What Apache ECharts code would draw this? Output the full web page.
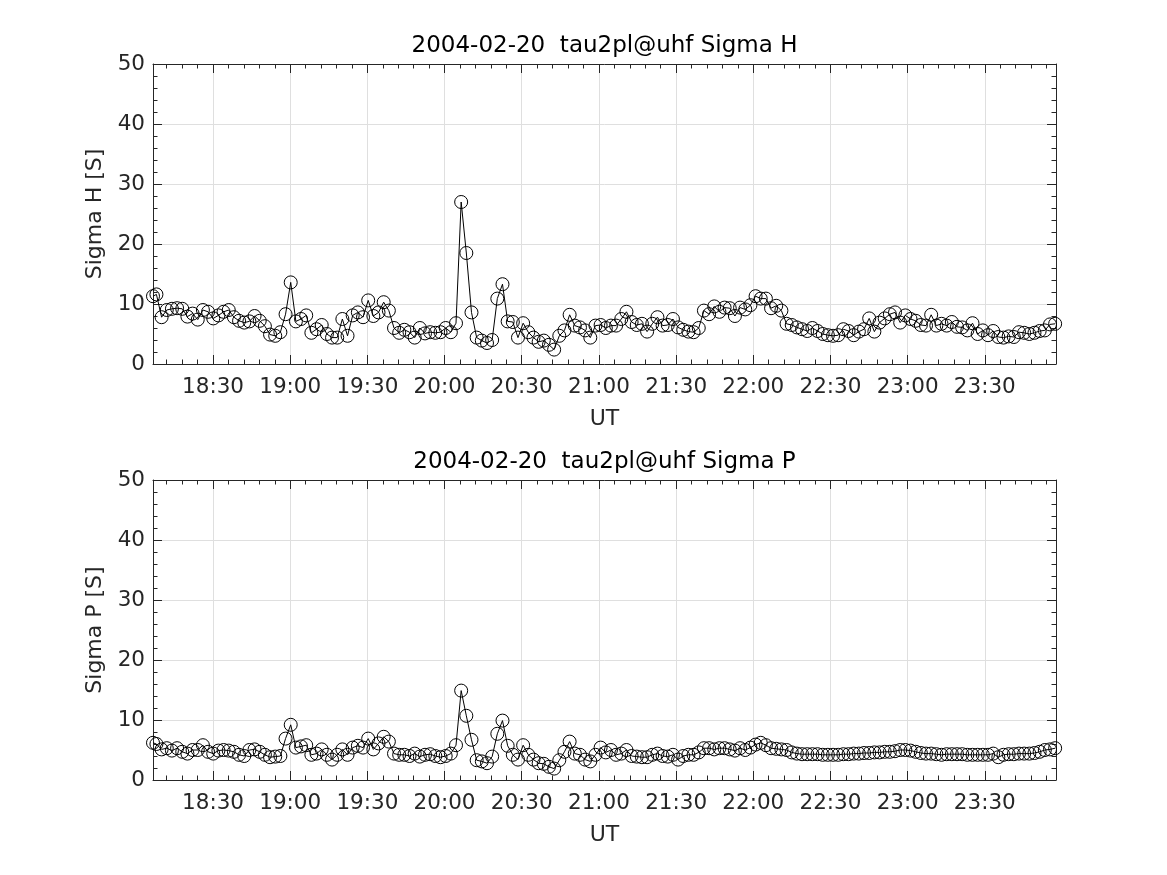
<!DOCTYPE html>
<html>
<head>
<meta charset="utf-8">
<script src="https://cdn.jsdelivr.net/npm/echarts@6/dist/echarts.min.js"></script>
<style>
html,body{margin:0;padding:0;background:#ffffff;}
#chart{width:1167px;height:875px;}
</style>
</head>
<body>
<div id="chart"></div>
<script>
// ---------------- data ----------------
const titleTop = '2004-02-20  tau2pl@uhf Sigma H';
const titleBottom = '2004-02-20  tau2pl@uhf Sigma P';
const yNameTop = 'Sigma H [S]';
const yNameBottom = 'Sigma P [S]';
const xName = 'UT';

const majorTickLabels = ['18:30','19:00','19:30','20:00','20:30','21:00','21:30','22:00','22:30','23:00','23:30'];
const yTickValues = [0, 10, 20, 30, 40, 50];

// sampling times (UT)
const firstSampleTime = '18:06:40';
const regularStartTime = '18:08:00';
const lastSampleTime = '23:57:20';
const axisStartTime = '18:06:40';
const axisEndTime = '23:57:40';

const sigmaH = [
 11.3, 11.6, 7.8, 9.0, 9.2, 9.3, 9.2, 7.9, 8.4, 7.4,
 9.0, 8.7, 7.6, 8.1, 8.7, 9.0, 7.8, 7.2, 6.9, 7.1,
 8.0, 7.2, 6.3, 4.9, 4.7, 5.3, 8.3, 13.6, 7.1, 7.5,
 8.1, 5.2, 5.8, 6.5, 5.0, 4.4, 4.4, 7.5, 4.7, 8.1,
 8.6, 7.8, 10.6, 8.0, 8.6, 10.3, 8.9, 6.0, 5.2, 5.7,
 5.3, 4.4, 6.0, 5.1, 5.3, 5.2, 5.3, 6.0, 5.3, 6.8,
 27.0, 18.5, 8.6, 4.4, 3.9, 3.5, 4.0, 10.9, 13.3, 7.1,
 7.0, 4.4, 6.8, 5.3, 4.4, 3.7, 3.9, 3.2, 2.4, 4.7,
 5.6, 8.2, 6.4, 6.1, 5.6, 4.4, 6.4, 6.5, 6.0, 6.4,
 6.4, 7.5, 8.7, 7.0, 6.5, 6.7, 5.4, 6.7, 7.8, 6.4,
 6.5, 7.5, 6.1, 5.7, 5.4, 5.3, 6.0, 8.9, 8.3, 9.6,
 8.7, 9.4, 9.3, 8.0, 9.4, 9.1, 9.8, 11.3, 10.9, 10.9,
 9.3, 9.7, 8.9, 6.7, 6.5, 6.1, 5.8, 5.5, 6.0, 5.5,
 5.0, 4.8, 4.7, 4.8, 5.8, 5.5, 4.8, 5.4, 5.8, 7.6,
 5.4, 6.9, 7.6, 8.3, 8.6, 6.9, 8.1, 7.5, 7.2, 6.5,
 6.4, 8.2, 6.4, 6.7, 6.4, 7.0, 6.2, 6.1, 5.6, 6.8,
 5.0, 5.6, 4.8, 5.5, 4.5, 4.4, 4.6, 4.5, 5.3, 5.2,
 5.0, 5.2, 5.5, 5.6, 6.6, 6.7
];

const sigmaP = [
 6.2, 6.0, 5.1, 5.3, 4.9, 5.3, 4.7, 4.4, 5.0, 5.0,
 5.8, 4.7, 4.4, 4.9, 5.0, 4.9, 4.7, 4.2, 4.0, 5.0,
 5.1, 4.7, 4.2, 3.8, 3.9, 4.0, 6.9, 9.2, 5.4, 5.6,
 5.8, 4.2, 4.4, 5.1, 4.2, 3.4, 4.2, 5.1, 4.2, 5.4,
 5.7, 5.4, 6.9, 5.1, 6.1, 7.2, 6.4, 4.4, 4.2, 4.2,
 4.0, 4.4, 3.9, 4.2, 4.3, 4.0, 3.8, 4.0, 4.4, 5.8,
 14.9, 10.7, 6.7, 3.3, 3.1, 2.8, 3.9, 7.7, 9.9, 5.7,
 4.2, 3.4, 5.8, 4.2, 3.4, 2.8, 2.7, 2.2, 1.9, 3.3,
 4.7, 6.4, 4.4, 4.2, 3.4, 3.1, 4.2, 5.4, 4.6, 5.0,
 4.2, 4.4, 5.0, 4.0, 3.9, 3.8, 3.8, 4.2, 4.4, 4.0,
 3.9, 4.2, 3.4, 4.0, 4.2, 4.2, 4.6, 5.3, 5.3, 5.1,
 5.3, 5.3, 5.1, 4.9, 5.3, 5.0, 5.4, 5.9, 6.2, 5.8,
 5.3, 5.2, 5.1, 5.0, 4.6, 4.4, 4.3, 4.3, 4.3, 4.3,
 4.2, 4.2, 4.2, 4.2, 4.3, 4.3, 4.4, 4.4, 4.5, 4.5,
 4.6, 4.6, 4.7, 4.7, 4.8, 5.0, 5.0, 4.9, 4.7, 4.5,
 4.4, 4.4, 4.3, 4.2, 4.3, 4.3, 4.3, 4.3, 4.2, 4.2,
 4.2, 4.2, 4.2, 4.4, 3.8, 4.2, 4.3, 4.3, 4.4, 4.4,
 4.4, 4.5, 4.7, 5.0, 5.1, 5.3
];

// ---------------- helpers ----------------
function toMin(s) {
  const p = s.split(':').map(Number);
  return p[0] * 60 + p[1] + (p[2] || 0) / 60;
}
function fmt(m) {
  const t = Math.round(m);
  const h = Math.floor(t / 60), mm = t % 60;
  return String(h).padStart(2, '0') + ':' + String(mm).padStart(2, '0');
}
const nRegular = sigmaH.length - 1;
const t0 = toMin(regularStartTime), t1 = toMin(lastSampleTime);
const sampleTimes = [toMin(firstSampleTime)];
for (let k = 0; k < nRegular; k++) sampleTimes.push(t0 + (t1 - t0) * k / (nRegular - 1));

const xMin = toMin(axisStartTime), xMax = toMin(axisEndTime);
const majorTicks = majorTickLabels.map(toMin);
const minorTicks = [];
for (let m = Math.ceil(xMin / 6) * 6; m <= xMax; m += 6) minorTicks.push(m);

const pairsH = sigmaH.map((v, i) => [sampleTimes[i], v]);
const pairsP = sigmaP.map((v, i) => [sampleTimes[i], v]);

// ---------------- styling ----------------
const FONT = 'DejaVu Sans';
const AX = '#262626';
const GRIDC = '#dfdfdf';
const TICK_FS = 21.5;
const LBL_FS = 22;
const TITLE_FS = 23;
const grids = [
  {left: 153, top: 64, width: 903, height: 300},
  {left: 153, top: 480, width: 903, height: 300}
];

function xAxesFor(g, withName) {
  const base = {gridIndex: g, type: 'value', min: xMin, max: xMax, scale: true};
  return [
    Object.assign({}, base, {
      position: 'bottom',
      axisLine: {show: true, onZero: false, lineStyle: {color: AX, width: 1}},
      axisTick: {show: true, inside: true, length: 9, customValues: majorTicks, lineStyle: {color: AX, width: 1}},
      axisLabel: {show: true, customValues: majorTicks, formatter: fmt, fontSize: TICK_FS, fontFamily: FONT, color: AX, margin: 12},
      splitLine: {show: true, lineStyle: {color: GRIDC, width: 1}},
      name: withName, nameLocation: 'middle', nameGap: 44,
      nameTextStyle: {fontSize: LBL_FS, fontFamily: FONT, color: AX}
    }),
    Object.assign({}, base, {
      position: 'bottom',
      axisLine: {show: false, onZero: false},
      axisTick: {show: true, inside: true, length: 4.5, customValues: minorTicks, lineStyle: {color: AX, width: 1}},
      axisLabel: {show: false}, splitLine: {show: false}
    }),
    Object.assign({}, base, {
      position: 'top',
      axisLine: {show: true, onZero: false, lineStyle: {color: AX, width: 1}},
      axisTick: {show: true, inside: true, length: 9, customValues: majorTicks, lineStyle: {color: AX, width: 1}},
      axisLabel: {show: false}, splitLine: {show: false}
    }),
    Object.assign({}, base, {
      position: 'top',
      axisLine: {show: false, onZero: false},
      axisTick: {show: true, inside: true, length: 4.5, customValues: minorTicks, lineStyle: {color: AX, width: 1}},
      axisLabel: {show: false}, splitLine: {show: false}
    })
  ];
}
function yAxesFor(g, name) {
  const base = {gridIndex: g, type: 'value', min: yTickValues[0], max: yTickValues[yTickValues.length - 1], interval: 10};
  return [
    Object.assign({}, base, {
      position: 'left',
      axisLine: {show: true, onZero: false, lineStyle: {color: AX, width: 1}},
      axisTick: {show: true, inside: true, length: 9, lineStyle: {color: AX, width: 1}},
      minorTick: {show: true, splitNumber: 5, length: 4.5, lineStyle: {color: AX, width: 1}},
      axisLabel: {show: true, fontSize: TICK_FS, fontFamily: FONT, color: AX, margin: 8},
      splitLine: {show: true, lineStyle: {color: GRIDC, width: 1}},
      name: name, nameLocation: 'middle', nameGap: 42,
      nameTextStyle: {fontSize: LBL_FS, fontFamily: FONT, color: AX}
    }),
    Object.assign({}, base, {
      position: 'right',
      axisLine: {show: true, onZero: false, lineStyle: {color: AX, width: 1}},
      axisTick: {show: true, inside: true, length: 9, lineStyle: {color: AX, width: 1}},
      minorTick: {show: true, splitNumber: 5, length: 4.5, lineStyle: {color: AX, width: 1}},
      axisLabel: {show: false}, splitLine: {show: false}
    })
  ];
}

function seriesFor(g, pairs) {
  return {
    type: 'line', xAxisIndex: g * 4, yAxisIndex: g * 2, data: pairs,
    symbol: 'circle', symbolSize: 13, showSymbol: true, showAllSymbol: true,
    clip: false, silent: true,
    lineStyle: {color: '#000', width: 1},
    itemStyle: {color: 'rgba(0,0,0,0)', borderColor: '#000', borderWidth: 1},
    emphasis: {disabled: true}
  };
}

const option = {
  animation: false,
  backgroundColor: '#ffffff',
  title: [
    {text: titleTop, left: 604.5, top: 35, textAlign: 'center', padding: 0,
     textStyle: {fontSize: TITLE_FS, fontWeight: 'normal', fontFamily: FONT, color: '#000'}},
    {text: titleBottom, left: 604.5, top: 451, textAlign: 'center', padding: 0,
     textStyle: {fontSize: TITLE_FS, fontWeight: 'normal', fontFamily: FONT, color: '#000'}}
  ],
  grid: grids.map(g => Object.assign({containLabel: false, show: false}, g)),
  xAxis: [].concat(xAxesFor(0, xName), xAxesFor(1, xName)),
  yAxis: [].concat(yAxesFor(0, yNameTop), yAxesFor(1, yNameBottom)),
  series: [seriesFor(0, pairsH), seriesFor(1, pairsP)]
};

const chart = echarts.init(document.getElementById('chart'), null, {renderer: 'canvas'});
chart.setOption(option);
</script>
</body>
</html>
